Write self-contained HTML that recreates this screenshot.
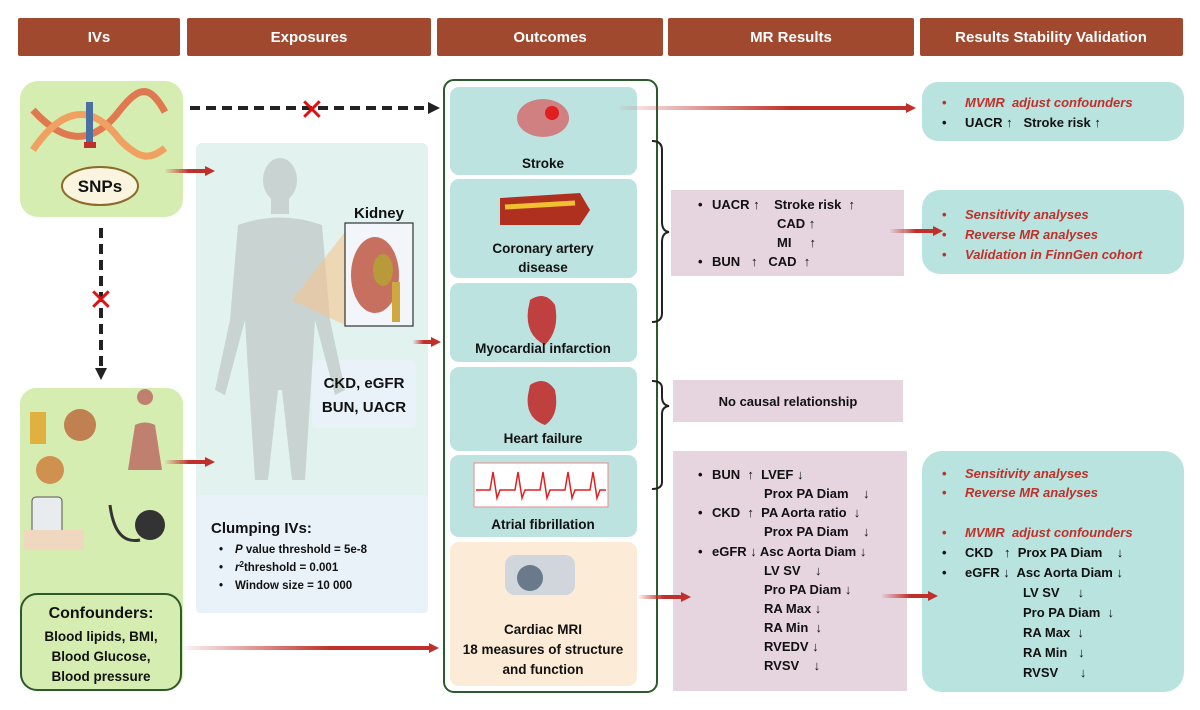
<!DOCTYPE html>
<html><head><meta charset="utf-8"><style>
html,body{margin:0;padding:0;background:#fff;}
svg{display:block;font-family:"Liberation Sans",Arial,sans-serif;font-weight:bold;}
svg text{white-space:pre;}
</style></head><body>
<svg width="1200" height="710" viewBox="0 0 1200 710" xmlns="http://www.w3.org/2000/svg" xml:space="preserve">
<defs>
<linearGradient id="ra" x1="0" x2="1" y1="0" y2="0"><stop offset="0" stop-color="#c0302a" stop-opacity="0.05"/><stop offset="0.6" stop-color="#c0302a"/><stop offset="1" stop-color="#c0302a"/></linearGradient>
</defs>
<!-- headers -->
<g fill="#a0492f">
<rect x="18" y="18" width="162" height="38" rx="2"/>
<rect x="187" y="18" width="244" height="38" rx="2"/>
<rect x="437" y="18" width="226" height="38" rx="2"/>
<rect x="668" y="18" width="246" height="38" rx="2"/>
<rect x="920" y="18" width="263" height="38" rx="2"/>
</g>
<g fill="#fff" font-size="15" text-anchor="middle">
<text x="99" y="42">IVs</text><text x="309" y="42">Exposures</text><text x="550" y="42">Outcomes</text><text x="791" y="42">MR Results</text><text x="1051" y="42">Results Stability Validation</text>
</g>
<!-- IV box -->
<rect x="20" y="81" width="163" height="136" rx="18" fill="#d6edb1"/>
<path d="M33,110 C60,140 90,150 120,110 C140,85 150,85 165,112" stroke="#e07850" stroke-width="7" fill="none"/>
<path d="M33,150 C60,110 90,100 120,140 C140,160 150,160 165,148" stroke="#f0a060" stroke-width="7" fill="none"/>
<rect x="86" y="102" width="7" height="40" fill="#4a6fa0"/><rect x="84" y="142" width="12" height="6" fill="#c0302a"/>
<ellipse cx="100" cy="186" rx="38" ry="19" fill="#fbf5e0" stroke="#8b6a2a" stroke-width="2"/>
<text x="100" y="192" font-size="17" text-anchor="middle" fill="#111">SNPs</text>
<!-- exposure panel -->
<rect x="196" y="143" width="232" height="470" rx="6" fill="#e2f2ee"/>
<rect x="196" y="495" width="232" height="118" rx="4" fill="#e9f1f9"/>
<rect x="312" y="360" width="104" height="68" rx="5" fill="#e9f1f9"/>
<!-- body -->
<g fill="#c9d3d2">
<ellipse cx="280" cy="180" rx="17" ry="22"/>
<rect x="271" y="198" width="18" height="16"/>
<path d="M238,225 Q280,210 322,225 L330,320 L345,390 L335,395 L315,320 L312,370 L305,480 L292,480 L282,390 L278,390 L268,480 L255,480 L248,370 L245,320 L225,395 L215,390 L230,320 Z"/>
</g>
<path d="M292,300 L345,232 L345,325 Z" fill="#f5c590" opacity="0.6"/>
<rect x="345" y="223" width="68" height="103" fill="#f2f5fa" stroke="#333" stroke-width="1.2"/>
<ellipse cx="375" cy="275" rx="24" ry="38" fill="#c87060"/><ellipse cx="383" cy="270" rx="10" ry="16" fill="#b89a3a"/>
<rect x="392" y="282" width="8" height="40" fill="#d0a840"/>
<text x="379" y="218" font-size="15" text-anchor="middle" fill="#111">Kidney</text>
<text x="364" y="388" font-size="15" text-anchor="middle" fill="#111">CKD, eGFR</text>
<text x="364" y="412" font-size="15" text-anchor="middle" fill="#111">BUN, UACR</text>
<text x="211" y="533" font-size="15" fill="#111">Clumping IVs:</text>
<g font-size="11.5" fill="#111">
<text x="219" y="553">•</text><text x="235" y="553"><tspan font-style="italic">P</tspan> value threshold = 5e-8</text>
<text x="219" y="571">•</text><text x="235" y="571"><tspan font-style="italic">r</tspan><tspan font-size="8" dy="-4">2</tspan><tspan dy="4">threshold = 0.001</tspan></text>
<text x="219" y="589">•</text><text x="235" y="589">Window size = 10 000</text>
</g>
<!-- confounder box -->
<rect x="20" y="388" width="163" height="302" rx="16" fill="#d6edb1"/>
<rect x="21" y="594" width="160" height="96" rx="16" fill="#d6edb1" stroke="#2d5a2d" stroke-width="2"/>
<circle cx="80" cy="425" r="16" fill="#c08050"/><circle cx="50" cy="470" r="14" fill="#d09050"/><rect x="30" y="412" width="16" height="32" fill="#e0b040"/>
<path d="M145,405 a8,8 0 1,1 0.1,0 M135,425 Q145,420 155,425 L162,470 L128,470 Z" fill="#c08070"/>
<rect x="32" y="497" width="30" height="44" rx="4" fill="#e8ecef" stroke="#555"/>
<rect x="24" y="530" width="60" height="20" fill="#f0d8c0"/>
<circle cx="150" cy="525" r="15" fill="#333"/><path d="M110,505 Q115,545 140,540" stroke="#333" stroke-width="3" fill="none"/>
<g font-size="13.5" text-anchor="middle" fill="#111">
<text x="101" y="618" font-size="16">Confounders:</text>
<text x="101" y="641">Blood lipids, BMI,</text>
<text x="101" y="661">Blood Glucose,</text>
<text x="101" y="681">Blood pressure</text>
</g>
<!-- dashed -->
<line x1="190" y1="108" x2="428" y2="108" stroke="#222" stroke-width="4" stroke-dasharray="10,6"/>
<polygon points="428,102 440,108 428,114" fill="#222"/>
<text x="312" y="120" font-size="30" fill="#e01010" text-anchor="middle" font-weight="normal">✕</text>
<line x1="101" y1="228" x2="101" y2="368" stroke="#222" stroke-width="4" stroke-dasharray="10,6"/>
<polygon points="95,368 101,380 107,368" fill="#222"/>
<text x="101" y="310" font-size="30" fill="#e01010" text-anchor="middle" font-weight="normal">✕</text>
<!-- outcomes -->
<rect x="444" y="80" width="213" height="612" rx="10" fill="#fff" stroke="#2d5a2d" stroke-width="2"/>
<g fill="#bde3e0">
<rect x="450" y="87" width="187" height="88" rx="9"/>
<rect x="450" y="179" width="187" height="99" rx="9"/>
<rect x="450" y="283" width="187" height="79" rx="9"/>
<rect x="450" y="367" width="187" height="84" rx="9"/>
<rect x="450" y="455" width="187" height="82" rx="9"/>
</g>
<rect x="450" y="542" width="187" height="144" rx="9" fill="#fcebd7"/>
<ellipse cx="543" cy="118" rx="26" ry="19" fill="#d08080"/><circle cx="552" cy="113" r="7" fill="#e02020"/>
<path d="M500,198 L580,193 L590,210 L580,225 L500,225 Z" fill="#b03020"/><path d="M505,207 L575,203" stroke="#f0c030" stroke-width="5"/>
<path d="M530,300 Q545,290 555,305 Q560,330 545,345 Q525,335 528,310 Z" fill="#c04040"/>
<path d="M530,385 Q545,375 555,390 Q560,415 545,425 Q525,418 528,395 Z" fill="#c04040"/>
<rect x="474" y="463" width="134" height="44" fill="#fff" stroke="#e88"/>
<polyline points="476,490 490,490 493,472 497,498 500,490 515,490 518,472 522,498 525,490 540,490 543,472 547,498 550,490 565,490 568,472 572,498 575,490 590,490 593,472 597,498 600,490 606,490" stroke="#e02020" fill="none" stroke-width="1.5"/>
<rect x="505" y="555" width="70" height="40" rx="10" fill="#d0d6dc"/><circle cx="530" cy="578" r="13" fill="#6a7a8a"/>
<g font-size="13.5" text-anchor="middle" fill="#111">
<text x="543" y="168">Stroke</text>
<text x="543" y="253">Coronary artery</text><text x="543" y="272">disease</text>
<text x="543" y="353">Myocardial infarction</text>
<text x="543" y="443">Heart failure</text>
<text x="543" y="529">Atrial fibrillation</text>
<text x="543" y="634">Cardiac MRI</text>
<text x="543" y="654">18 measures of structure</text>
<text x="543" y="674">and function</text>
</g>
<!-- braces -->
<path d="M652,141 Q662,141 662,150 L662,222 Q662,231 669,232 Q662,233 662,242 L662,313 Q662,322 652,322" stroke="#222" stroke-width="2" fill="none"/>
<path d="M652,381 Q662,381 662,388 L662,397 Q662,405 669,406 Q662,407 662,414 L662,482 Q662,489 652,489" stroke="#222" stroke-width="2" fill="none"/>
<!-- MR boxes -->
<g fill="#e6d4df">
<rect x="671" y="190" width="233" height="86"/>
<rect x="673" y="380" width="230" height="42"/>
<rect x="673" y="451" width="234" height="240"/>
</g>
<g font-size="13" fill="#111">
<text x="698" y="209">•</text><text x="712" y="209">UACR ↑    Stroke risk  ↑</text>
<text x="777" y="228">CAD ↑</text>
<text x="777" y="247">MI     ↑</text>
<text x="698" y="266">•</text><text x="712" y="266">BUN   ↑   CAD  ↑</text>
<text x="788" y="406" text-anchor="middle">No causal relationship</text>
<text x="698" y="479">•</text><text x="712" y="479">BUN  ↑  LVEF ↓</text>
<text x="764" y="498">Prox PA Diam    ↓</text>
<text x="698" y="517">•</text><text x="712" y="517">CKD  ↑  PA Aorta ratio  ↓</text>
<text x="764" y="536">Prox PA Diam    ↓</text>
<text x="698" y="556">•</text><text x="712" y="556">eGFR ↓ Asc Aorta Diam ↓</text>
<text x="764" y="575">LV SV    ↓</text>
<text x="764" y="594">Pro PA Diam ↓</text>
<text x="764" y="613">RA Max ↓</text>
<text x="764" y="632">RA Min  ↓</text>
<text x="764" y="651">RVEDV ↓</text>
<text x="764" y="670">RVSV    ↓</text>
</g>
<!-- right boxes -->
<g fill="#b8e3df">
<rect x="922" y="82" width="262" height="59" rx="16"/>
<rect x="922" y="190" width="262" height="84" rx="18"/>
<rect x="922" y="451" width="262" height="241" rx="20"/>
</g>
<g font-size="13" fill="#111">
<text x="942" y="107" fill="#c0302a">•</text><text x="965" y="107" fill="#c0302a" font-style="italic">MVMR  adjust confounders</text>
<text x="942" y="127">•</text><text x="965" y="127">UACR ↑   Stroke risk ↑</text>
<text x="942" y="219" fill="#c0302a">•</text><text x="965" y="219" fill="#c0302a" font-style="italic">Sensitivity analyses</text>
<text x="942" y="239" fill="#c0302a">•</text><text x="965" y="239" fill="#c0302a" font-style="italic">Reverse MR analyses</text>
<text x="942" y="259" fill="#c0302a">•</text><text x="965" y="259" fill="#c0302a" font-style="italic">Validation in FinnGen cohort</text>
<text x="942" y="478" fill="#c0302a">•</text><text x="965" y="478" fill="#c0302a" font-style="italic">Sensitivity analyses</text>
<text x="942" y="497" fill="#c0302a">•</text><text x="965" y="497" fill="#c0302a" font-style="italic">Reverse MR analyses</text>
<text x="942" y="537" fill="#c0302a">•</text><text x="965" y="537" fill="#c0302a" font-style="italic">MVMR  adjust confounders</text>
<text x="942" y="557">•</text><text x="965" y="557">CKD   ↑  Prox PA Diam    ↓</text>
<text x="942" y="577">•</text><text x="965" y="577">eGFR ↓  Asc Aorta Diam ↓</text>
<text x="1023" y="597">LV SV     ↓</text>
<text x="1023" y="617">Pro PA Diam  ↓</text>
<text x="1023" y="637">RA Max  ↓</text>
<text x="1023" y="657">RA Min   ↓</text>
<text x="1023" y="677">RVSV      ↓</text>
</g>
<!-- red arrows: shaft rect + head -->
<g fill="url(#ra)">
<rect x="165" y="169" width="40" height="4"/>
<rect x="413" y="340" width="18" height="4"/>
<rect x="165" y="460" width="40" height="4"/>
<rect x="183" y="646" width="246" height="4"/>
<rect x="620" y="106" width="286" height="4"/>
<rect x="890" y="229" width="43" height="4"/>
<rect x="638" y="595" width="43" height="4"/>
<rect x="882" y="594" width="46" height="4"/>
</g>
<g fill="#c0302a">
<polygon points="205,166 215,171 205,176"/>
<polygon points="431,337 441,342 431,347"/>
<polygon points="205,457 215,462 205,467"/>
<polygon points="429,643 439,648 429,653"/>
<polygon points="906,103 916,108 906,113"/>
<polygon points="933,226 943,231 933,236"/>
<polygon points="681,592 691,597 681,602"/>
<polygon points="928,591 938,596 928,601"/>
</g>
</svg>
</body></html>
